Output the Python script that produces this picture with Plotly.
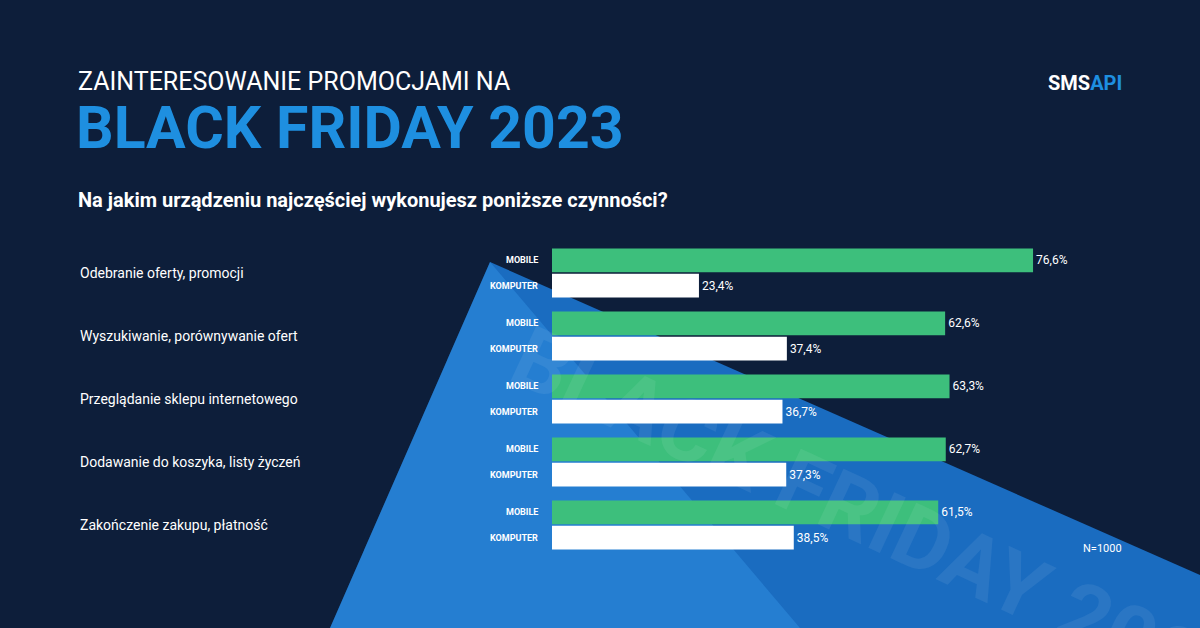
import plotly.graph_objects as go

W, H = 1200, 628

categories = [
    "Odebranie oferty, promocji",
    "Wyszukiwanie, porównywanie ofert",
    "Przeglądanie sklepu internetowego",
    "Dodawanie do koszyka, listy życzeń",
    "Zakończenie zakupu, płatność",
]
mobile = [76.6, 62.6, 63.3, 62.7, 61.5]
komputer = [23.4, 37.4, 36.7, 37.3, 38.5]
series_labels = ["MOBILE", "KOMPUTER"]


def fmt(v):
    return f"{v:.1f}%".replace(".", ",")


def px_x(p):
    return p / W


def px_y(p):
    return 1 - p / H


idx = list(range(len(categories)))
fig = go.Figure()
fig.add_trace(go.Bar(
    y=[i - 0.2 for i in idx], x=mobile, orientation="h", width=0.38,
    marker=dict(color="#3dbf7c", line=dict(width=0)),
    text=[fmt(v) for v in mobile], textposition="outside",
    textfont=dict(color="white", size=12, family="Roboto"), cliponaxis=False,
    name=series_labels[0],
))
fig.add_trace(go.Bar(
    y=[i + 0.2 for i in idx], x=komputer, orientation="h", width=0.38,
    marker=dict(color="white", line=dict(width=0)),
    text=[fmt(v) for v in komputer], textposition="outside",
    textfont=dict(color="white", size=12, family="Roboto"), cliponaxis=False,
    name=series_labels[1],
))

annotations = [
    dict(x=px_x(880), y=px_y(520), xref="paper", yref="paper", xanchor="center", yanchor="middle",
         text="<b>BLACK FRIDAY 2023</b>", showarrow=False, textangle=25,
         font=dict(color="rgba(255,255,255,0.07)", size=86, family="Roboto")),
]
for i, c in enumerate(categories):
    annotations.append(dict(x=px_x(78), y=i, xref="paper", yref="y", text=c,
                            showarrow=False, xanchor="left",
                            font=dict(color="white", size=14, family="Roboto")))
    for off, lab in ((-0.2, series_labels[0]), (0.2, series_labels[1])):
        annotations.append(dict(x=px_x(540), y=i + off, xref="paper", yref="y",
                                text=f"<b>{lab}</b>", showarrow=False, xanchor="right",
                                font=dict(color="white", size=9, family="Roboto")))

annotations += [
    dict(x=px_x(76), y=px_y(82), xref="paper", yref="paper", text="ZAINTERESOWANIE PROMOCJAMI NA",
         showarrow=False, xanchor="left", yanchor="middle",
         font=dict(color="white", size=25, family="Roboto")),
    dict(x=px_x(74), y=px_y(127), xref="paper", yref="paper", text="<b>BLACK FRIDAY 2023</b>",
         showarrow=False, xanchor="left", yanchor="middle",
         font=dict(color="#1e8fe0", size=59, family="Roboto")),
    dict(x=px_x(76), y=px_y(200), xref="paper", yref="paper",
         text="<b>Na jakim urządzeniu najczęściej wykonujesz poniższe czynności?</b>",
         showarrow=False, xanchor="left", yanchor="middle",
         font=dict(color="white", size=20, family="Roboto")),
    dict(x=px_x(1124), y=px_y(83), xref="paper", yref="paper",
         text="<b>SMS</b><span style='color:#1e8fe0'><b>API</b></span>",
         showarrow=False, xanchor="right", yanchor="middle",
         font=dict(color="white", size=20, family="Roboto")),
    dict(x=px_x(1124), y=px_y(548), xref="paper", yref="paper", text="N=1000",
         showarrow=False, xanchor="right", yanchor="middle",
         font=dict(color="white", size=11, family="Roboto")),
]

shapes = [
    dict(type="path", xref="paper", yref="paper", layer="below", line=dict(width=0),
         path=f"M {px_x(490)} {px_y(262)} L {px_x(1200)} {px_y(575)} L {px_x(1200)} {px_y(628)} "
              f"L {px_x(330)} {px_y(628)} Z",
         fillcolor="#1a6cc0"),
    dict(type="path", xref="paper", yref="paper", layer="below", line=dict(width=0),
         path=f"M {px_x(490)} {px_y(262)} L {px_x(800)} {px_y(628)} L {px_x(330)} {px_y(628)} Z",
         fillcolor="rgba(60,160,240,0.35)"),
]

fig.update_layout(
    width=W, height=H, margin=dict(l=0, r=0, t=0, b=0),
    paper_bgcolor="#0d1e3a", plot_bgcolor="rgba(0,0,0,0)",
    barmode="overlay", showlegend=False,
    xaxis=dict(domain=[px_x(552), px_x(1180)], range=[0, 100], visible=False, fixedrange=True),
    yaxis=dict(domain=[px_y(556.5), px_y(241.5)], range=[4.5, -0.5], visible=False, fixedrange=True),
    annotations=annotations, shapes=shapes,
)

fig.write_html("out.html", config={"displayModeBar": False},
               post_script="document.body.style.margin='0';")
